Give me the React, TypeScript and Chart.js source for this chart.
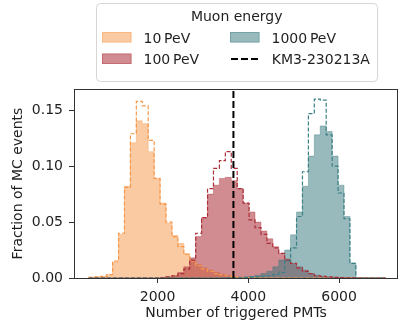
import React, { useEffect, useRef } from 'react';
import { Chart, registerables } from 'chart.js';

Chart.register(...registerables);

// Histogram binning (number of triggered PMTs)
const binStart = 485;
const binWidth = 130.8;

// Fraction of MC events per bin (50 bins)
const pev10 = [
  0.0005, 0.001, 0.0015, 0.003, 0.014, 0.039, 0.082, 0.121, 0.1405, 0.138,
  0.113, 0.089, 0.067, 0.049, 0.038, 0.031, 0.022, 0.016, 0.012, 0.009,
  0.007, 0.005, 0.0035, 0.0025, 0.0015, 0.001, 0.0006, 0.0004, 0.0002, 0,
  0, 0, 0, 0, 0, 0, 0, 0, 0, 0,
  0, 0, 0, 0, 0, 0, 0, 0, 0, 0,
];
const pev10Alt = [
  0.0005, 0.001, 0.0015, 0.003, 0.015, 0.040, 0.081, 0.129, 0.158, 0.154,
  0.123, 0.089, 0.066, 0.050, 0.037, 0.028, 0.021, 0.015, 0.011, 0.008,
  0.006, 0.004, 0.003, 0.002, 0.001, 0.0005, 0.0003, 0.0002, 0.0001, 0,
  0, 0, 0, 0, 0, 0, 0, 0, 0, 0,
  0, 0, 0, 0, 0, 0, 0, 0, 0, 0,
];
const pev100 = [
  0, 0, 0, 0, 0, 0, 0, 0, 0, 0,
  0, 0, 0.0005, 0.001, 0.002, 0.005, 0.010, 0.018, 0.037, 0.054,
  0.075, 0.083, 0.089, 0.090, 0.087, 0.080, 0.067, 0.059, 0.050, 0.042,
  0.035, 0.028, 0.022, 0.017, 0.013, 0.010, 0.007, 0.004, 0.0025, 0.0015,
  0.001, 0.0007, 0.0005, 0.0004, 0.0003, 0.0002, 0.0001, 0.0001, 0, 0,
];
const pev100Alt = [
  0, 0, 0, 0, 0, 0, 0, 0, 0, 0,
  0, 0, 0.0003, 0.001, 0.002, 0.004, 0.008, 0.016, 0.040, 0.054,
  0.080, 0.098, 0.105, 0.113, 0.098, 0.080, 0.067, 0.052, 0.045, 0.039,
  0.031, 0.027, 0.022, 0.016, 0.013, 0.009, 0.006, 0.004, 0.002, 0.0015,
  0.001, 0.0005, 0.0003, 0.0002, 0.0001, 0, 0, 0, 0, 0,
];
const pev1000 = [
  0, 0, 0, 0, 0, 0, 0, 0, 0, 0,
  0, 0, 0, 0, 0, 0, 0, 0, 0, 0,
  0, 0, 0, 0.0002, 0.0003, 0.0005, 0.001, 0.0015, 0.0025, 0.004,
  0.006, 0.010, 0.016, 0.025, 0.0386, 0.059, 0.082, 0.109, 0.128, 0.136,
  0.131, 0.109, 0.083, 0.055, 0.0134, 0, 0, 0, 0, 0,
];
const pev1000Alt = [
  0, 0, 0, 0, 0, 0, 0, 0, 0, 0,
  0, 0, 0, 0, 0, 0, 0, 0, 0, 0,
  0, 0, 0, 0.0001, 0.0002, 0.0003, 0.0005, 0.0008, 0.001, 0.0015,
  0.002, 0.003, 0.005, 0.015, 0.027, 0.055, 0.095, 0.147, 0.160, 0.159,
  0.128, 0.100, 0.076, 0.053, 0.013, 0, 0, 0, 0, 0,
];

const eventPMTs = 3672;
const seriesLabels = ['10\u2009PeV', '100\u2009PeV', '1000\u2009PeV'];
const eventLabel = 'KM3-230213A';
const legendTitle = 'Muon energy';
const xTicks = [2000, 4000, 6000];
const yTicks = [0, 0.05, 0.1, 0.15];
const xRange = [157, 7300];
const yRange = [0, 0.169];

const FONT = "'DejaVu Sans', sans-serif";
const TEXT = '#1f1f1f';
const AXIS = '#333333';

const colOrange = { fill: 'rgba(245,150,70,0.5)', edge: 'rgba(245,150,70,0.35)', line: 'rgb(245,152,75)' };
const colRed = { fill: 'rgba(172,45,55,0.55)', edge: 'rgba(172,45,55,0.35)', line: 'rgb(172,48,58)' };
const colTeal = { fill: 'rgba(50,118,123,0.5)', edge: 'rgba(50,118,123,0.35)', line: 'rgb(60,128,132)' };

function stepPoints(values: number[]) {
  const pts = [{ x: binStart, y: 0 }];
  values.forEach((v, i) => pts.push({ x: binStart + i * binWidth, y: v }));
  pts.push({ x: binStart + values.length * binWidth, y: 0 });
  return pts;
}

function filled(label: string, values: number[], c: any, order: number) {
  return {
    label,
    data: stepPoints(values),
    stepped: 'before' as const,
    fill: 'origin',
    backgroundColor: c.fill,
    borderColor: c.edge,
    borderWidth: 1,
    pointRadius: 0,
    order,
  };
}

function dashed(label: string, values: number[], c: any, order: number) {
  return {
    label,
    data: stepPoints(values),
    stepped: 'before' as const,
    fill: false,
    borderColor: c.line,
    borderWidth: 1.2,
    borderDash: [4, 2],
    pointRadius: 0,
    order,
  };
}

const framePlugin = {
  id: 'frame',
  afterDatasetsDraw(chart: any) {
    const { ctx, chartArea: a } = chart;
    ctx.save();
    ctx.strokeStyle = AXIS;
    ctx.lineWidth = 1;
    ctx.strokeRect(a.left + 0.5, a.top + 0.5, a.right - a.left - 1, a.bottom - a.top);
    ctx.restore();
  },
};

const legendPlugin = {
  id: 'muonLegend',
  afterDraw(chart: any) {
    const ctx = chart.ctx as CanvasRenderingContext2D;
    ctx.save();
    ctx.beginPath();
    (ctx as any).roundRect(96.5, 3.5, 281, 78, 4);
    ctx.fillStyle = 'rgba(255,255,255,0.9)';
    ctx.fill();
    ctx.strokeStyle = '#d6d6d6';
    ctx.lineWidth = 1;
    ctx.stroke();

    ctx.font = `14px ${FONT}`;
    ctx.fillStyle = TEXT;
    ctx.textBaseline = 'alphabetic';
    ctx.textAlign = 'center';
    ctx.fillText(legendTitle, 236.7, 20.5);

    ctx.textAlign = 'left';
    const patches = [
      { label: seriesLabels[0], c: colOrange, x: 102, y: 32 },
      { label: seriesLabels[1], c: colRed, x: 102, y: 53.5 },
      { label: seriesLabels[2], c: colTeal, x: 230, y: 32 },
    ];
    patches.forEach((p) => {
      ctx.fillStyle = p.c.fill;
      ctx.fillRect(p.x, p.y, 29.5, 10.5);
      ctx.strokeStyle = p.c.edge;
      ctx.lineWidth = 1;
      ctx.strokeRect(p.x + 0.5, p.y + 0.5, 28.5, 9.5);
      ctx.fillStyle = TEXT;
      ctx.fillText(p.label, p.x + 41.5, p.y + 10.8);
    });
    ctx.beginPath();
    ctx.setLineDash([7, 3]);
    ctx.strokeStyle = '#000';
    ctx.lineWidth = 2.2;
    ctx.moveTo(231, 59);
    ctx.lineTo(260, 59);
    ctx.stroke();
    ctx.setLineDash([]);
    ctx.fillStyle = TEXT;
    ctx.fillText(eventLabel, 271.7, 64.3);
    ctx.restore();
  },
};

export default function App() {
  const ref = useRef<HTMLCanvasElement>(null);
  useEffect(() => {
    const chart = new Chart(ref.current!, {
      type: 'line',
      data: {
        datasets: [
          {
            label: eventLabel,
            data: [
              { x: eventPMTs, y: yRange[0] },
              { x: eventPMTs, y: yRange[1] },
            ],
            borderColor: '#000',
            borderWidth: 2,
            borderDash: [7, 3],
            pointRadius: 0,
            fill: false,
            order: 0,
          } as any,
          dashed(seriesLabels[2] + ' alt', pev1000Alt, colTeal, 1),
          dashed(seriesLabels[1] + ' alt', pev100Alt, colRed, 2),
          dashed(seriesLabels[0] + ' alt', pev10Alt, colOrange, 3),
          filled(seriesLabels[2], pev1000, colTeal, 4),
          filled(seriesLabels[1], pev100, colRed, 5),
          filled(seriesLabels[0], pev10, colOrange, 6),
        ],
      },
      options: {
        animation: false,
        responsive: false,
        devicePixelRatio: 1,
        layout: { padding: { left: 0, top: 89, right: 2, bottom: 0 } },
        plugins: { legend: { display: false }, tooltip: { enabled: false } },
        elements: { line: { tension: 0 } },
        scales: {
          x: {
            type: 'linear',
            min: xRange[0],
            max: xRange[1],
            afterBuildTicks: (s: any) => {
              s.ticks = xTicks.map((v) => ({ value: v }));
            },
            afterFit: (s: any) => {
              s.height = 46;
            },
            grid: { drawOnChartArea: false, drawTicks: true, tickLength: 5, color: AXIS, lineWidth: 1 },
            border: { display: false },
            ticks: {
              font: { family: FONT, size: 14 },
              color: TEXT,
              padding: 5.5,
              maxRotation: 0,
              autoSkip: false,
              callback: (v: any) => String(v),
            },
            title: {
              display: true,
              text: 'Number of triggered PMTs',
              font: { family: FONT, size: 14 },
              color: TEXT,
              padding: { top: 0, bottom: 2 },
            },
          },
          y: {
            type: 'linear',
            min: yRange[0],
            max: yRange[1],
            afterBuildTicks: (s: any) => {
              s.ticks = yTicks.map((v) => ({ value: v }));
            },
            afterFit: (s: any) => {
              s.width = 74;
            },
            grid: { drawOnChartArea: false, drawTicks: true, tickLength: 5, color: AXIS, lineWidth: 1 },
            border: { display: false },
            ticks: {
              font: { family: FONT, size: 14 },
              color: TEXT,
              padding: 6,
              autoSkip: false,
              callback: (v: any) => Number(v).toFixed(2),
            },
            title: {
              display: true,
              text: 'Fraction of MC events',
              font: { family: FONT, size: 14 },
              color: TEXT,
              padding: { top: 10, bottom: 0 },
            },
          },
        },
      },
      plugins: [framePlugin, legendPlugin],
    } as any);
    return () => chart.destroy();
  }, []);
  return (
    <div style={{ position: 'fixed', left: 0, top: 0, width: 400, height: 324, background: '#fff' }}>
      <canvas ref={ref} width={400} height={324} style={{ display: 'block', width: 400, height: 324 }} />
    </div>
  );
}
